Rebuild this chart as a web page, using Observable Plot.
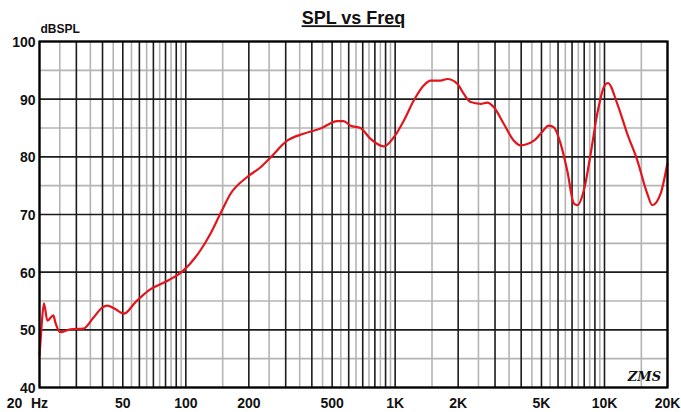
<!DOCTYPE html>
<html><head><meta charset="utf-8">
<script src="https://cdn.jsdelivr.net/npm/d3@7"></script>
<script src="https://cdn.jsdelivr.net/npm/@observablehq/plot@0.6"></script>
<style>body{margin:0;background:#fff;} svg{display:block;}</style>
</head><body><div id="chart"></div>
<script>
// Frequency response (Hz) and SPL (dB)
const freq = [20, 20.4, 21.0, 21.8, 23.3, 23.8, 25.2, 28.1, 32.4, 36, 40.0, 42.1, 46, 50.6, 57.5, 66.3, 82.7, 96.1, 117.5, 131.3, 146.5, 163.6, 196.5, 227.5, 254, 305, 365, 440, 529, 567, 612, 683, 763, 883, 986, 1101, 1229, 1372, 1476, 1648, 1774, 1980, 2129, 2293, 2559, 2754, 2962, 3306, 3691, 3975, 4600, 4952, 5427, 5734, 6171, 6641, 7143, 7413, 7974, 8586, 9240, 9935, 10382, 11513, 12852, 14347, 16016, 16924, 18540, 19960];
const spl  = [45.5, 50.0, 54.6, 51.6, 52.5, 51.3, 49.6, 50.1, 50.2, 52.0, 53.9, 54.2, 53.6, 52.8, 54.8, 56.8, 58.6, 60.1, 63.8, 66.7, 70.2, 73.6, 76.5, 78.2, 79.9, 82.8, 84.0, 84.9, 86.2, 86.2, 85.4, 85.0, 83.1, 81.8, 83.4, 86.3, 89.8, 92.4, 93.2, 93.2, 93.5, 92.7, 90.9, 89.5, 89.2, 89.4, 88.6, 85.7, 82.8, 82.0, 82.8, 84.0, 85.4, 85.1, 82.3, 77.6, 71.9, 71.6, 74.2, 80.5, 87.5, 92.1, 92.8, 89.2, 84.0, 79.4, 73.6, 71.6, 73.6, 78.8];

const xMajor = [20,30,40,50,60,70,80,90,100,200,300,400,500,600,700,800,900,1000,2000,3000,4000,5000,6000,7000,8000,9000,10000,20000];
const xMinor = [25,35,45,55,65,75,85,95,150,250,350,450,550,650,750,850,950,1500,2500,3500,4500,5500,6500,7500,8500,9500,15000];
const yMajor = [40,50,60,70,80,90,100];
const yMinor = [45,55,65,75,85,95];
const xTicks = [50,100,200,500,1000,2000,5000,10000,20000];
const xTickText = ["50","100","200","500","1K","2K","5K","10K","20K"];
const title = "SPL vs Freq";
const yTitle = "dBSPL";
const signature = "ZMS";

const data = freq.map((f, i) => ({f, db: spl[i]}));
const xt = xTicks.map((v, i) => ({v, t: xTickText[i]}));
const font = "Liberation Sans, Arial, sans-serif";

const chart = Plot.plot({
  width: 681, height: 412,
  marginLeft: 39, marginRight: 14, marginTop: 41, marginBottom: 25,
  x: {type: "log", domain: [20, 20000], axis: null},
  y: {domain: [40, 100], axis: null},
  style: {fontFamily: font, background: "#fff", color: "#111"},
  marks: [
    Plot.ruleX(xMinor, {stroke: "#b4b4b4", strokeWidth: 1.6}),
    Plot.ruleY(yMinor, {stroke: "#b4b4b4", strokeWidth: 1.6}),
    Plot.ruleX(xMajor, {stroke: "#1c1c1c", strokeWidth: 1.6}),
    Plot.ruleY(yMajor, {stroke: "#1c1c1c", strokeWidth: 1.6}),
    Plot.line(data, {x: "f", y: "db", stroke: "#e3141b", strokeWidth: 2.2, curve: "monotone-x"}),
    Plot.frame({stroke: "#000", strokeWidth: 2.2}),
    Plot.text(yMajor, {x: 20, y: d => d, text: d => String(d), textAnchor: "end", dx: -4, dy: 1, fontSize: 14, fontWeight: "bold"}),
    Plot.text(xt, {x: "v", text: "t", frameAnchor: "bottom", lineAnchor: "middle", dy: 16, fontSize: 14, fontWeight: "bold"}),
    Plot.text(["20"], {x: 20, text: d => d, frameAnchor: "bottom", lineAnchor: "middle", dy: 16, dx: -25, fontSize: 14, fontWeight: "bold"}),
    Plot.text(["Hz"], {x: 20, text: d => d, frameAnchor: "bottom", lineAnchor: "middle", dy: 16, dx: 0, fontSize: 14, fontWeight: "bold"}),
    Plot.text([title], {text: d => d, frameAnchor: "top", lineAnchor: "middle", dy: -23, fontSize: 18, fontWeight: "bold"}),
    Plot.text([yTitle], {text: d => d, frameAnchor: "top-left", textAnchor: "start", lineAnchor: "middle", dy: -12, dx: 1, fontSize: 12, fontWeight: "bold"}),
    Plot.text([signature], {text: d => d, frameAnchor: "bottom-right", textAnchor: "middle", lineAnchor: "middle", dx: -23, dy: -11, fontSize: 13, fontStyle: "italic", fontWeight: "bold", fontFamily: "DejaVu Serif, serif"})
  ]
});
d3.select(chart).selectAll("text").filter(function() { return this.textContent === title; })
  .style("text-decoration", "underline").style("text-decoration-thickness", "2px");
document.getElementById("chart").appendChild(chart);
</script>
</body></html>
